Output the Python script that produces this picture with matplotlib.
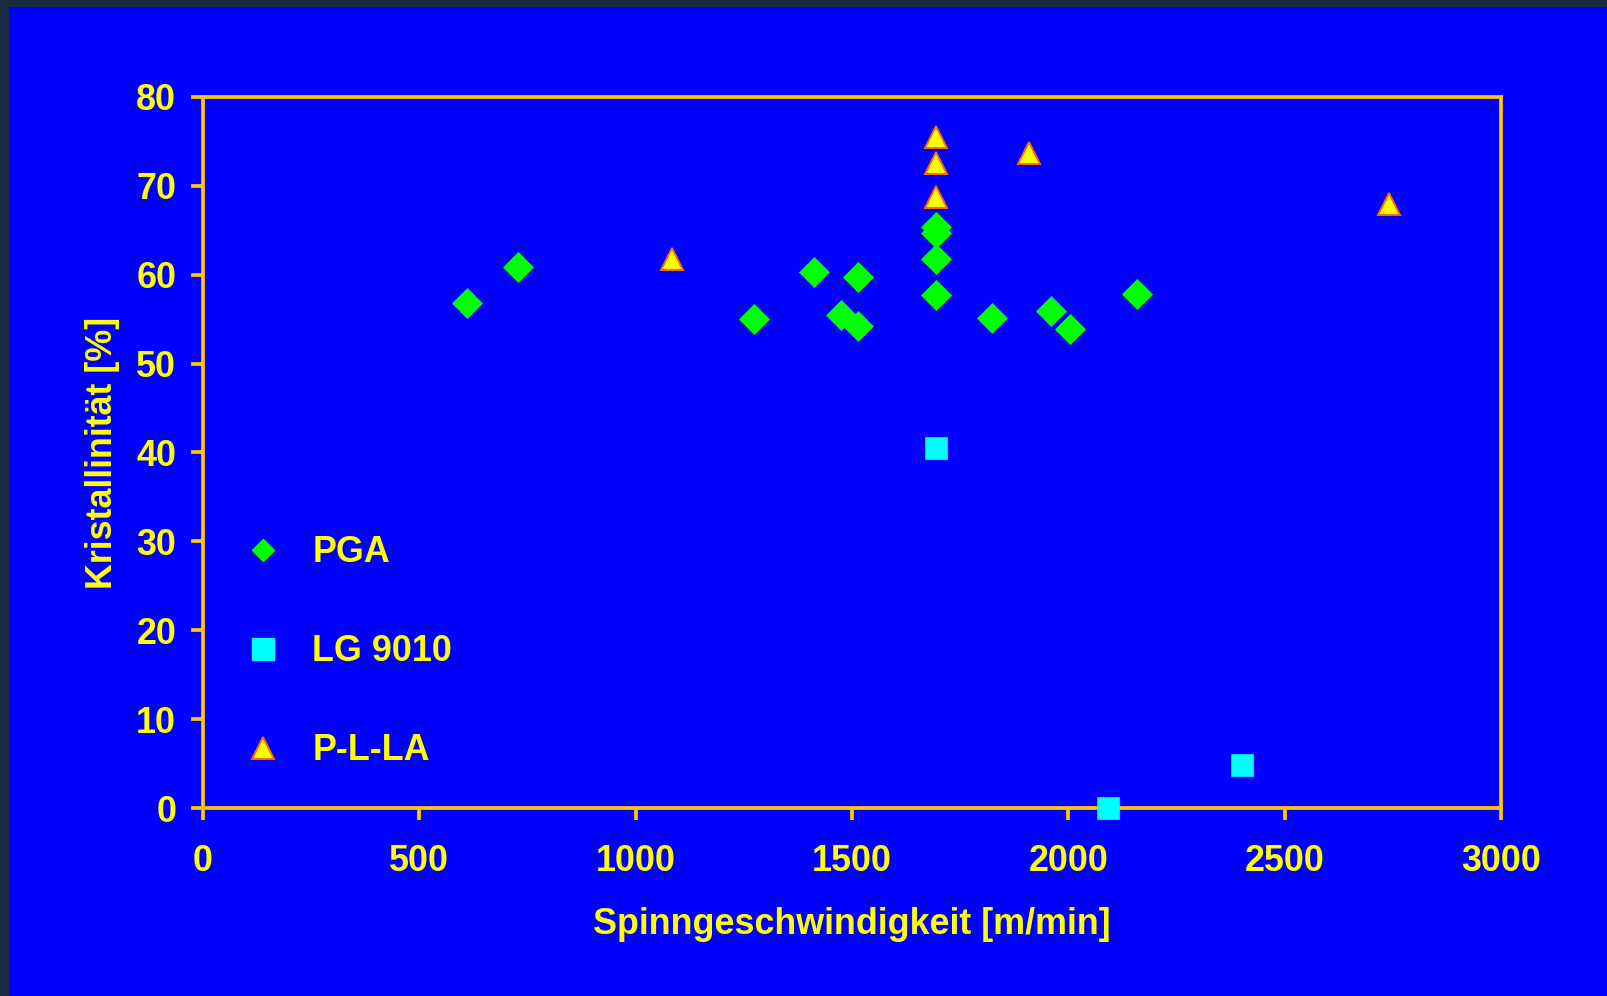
import matplotlib
matplotlib.use("Agg")
import matplotlib.pyplot as plt
from matplotlib.lines import Line2D
from matplotlib.patches import Rectangle

# Spinning speed [m/min] and crystallinity [%] per material
pga_speed = [610, 728, 1273, 1413, 1475, 1513, 1513, 1695, 1695, 1695, 1695, 1824, 1959, 2004, 2158]
pga_cryst = [56.8, 60.9, 55.0, 60.3, 55.5, 54.2, 59.8, 65.4, 64.7, 61.8, 57.7, 55.1, 55.9, 53.9, 57.8]

lg_speed = [1695, 2092, 2402]
lg_cryst = [40.5, 0.0, 4.8]

plla_speed = [1084, 1695, 1695, 1695, 1909, 2741]
plla_cryst = [61.8, 75.5, 72.6, 68.8, 73.7, 68.0]

series_names = ["PGA", "LG 9010", "P-L-LA"]
x_ticks = [0, 500, 1000, 1500, 2000, 2500, 3000]
y_ticks = [0, 10, 20, 30, 40, 50, 60, 70, 80]

BLUE = "#0000FF"
YELLOW = "#FFFF00"
AXIS = "#FFC800"
GREEN = "#00FF00"
CYAN = "#00FFFF"
ORANGE = "#FF6600"
FS = 25.8

plt.rcParams["font.family"] = ["Liberation Sans", "DejaVu Sans"]
plt.rcParams["font.weight"] = "bold"

fig = plt.figure(figsize=(16.08, 9.96), dpi=100)
fig.patch.set_facecolor("#1a2a40")
fig.patches.append(Rectangle((9 / 1608, 0), 1, 1 - 7 / 996, transform=fig.transFigure,
                             facecolor=BLUE, edgecolor="none", zorder=-10))

ax = fig.add_axes([203 / 1608, 1 - 808 / 996, (1501 - 203) / 1608, (808 - 97) / 996])
ax.set_facecolor(BLUE)

ax.plot(pga_speed, pga_cryst, linestyle="none", marker="D", markersize=15.3,
        markerfacecolor=GREEN, markeredgecolor=GREEN, markeredgewidth=0.5,
        clip_on=False, zorder=5)
ax.plot(lg_speed, lg_cryst, linestyle="none", marker="s", markersize=16.0,
        markerfacecolor=CYAN, markeredgecolor=CYAN, markeredgewidth=0.5,
        clip_on=False, zorder=5)
ax.plot(plla_speed, plla_cryst, linestyle="none", marker="^", markersize=16.0,
        markerfacecolor=YELLOW, markeredgecolor=ORANGE, markeredgewidth=1.4,
        clip_on=False, zorder=5)

ax.set_xlim(0, 3000)
ax.set_ylim(0, 80)
ax.set_xticks(x_ticks)
ax.set_yticks(y_ticks)

for sp in ax.spines.values():
    sp.set_color(AXIS)
    sp.set_linewidth(2.7)

ax.tick_params(axis="both", colors=AXIS, width=2.7, length=8.8,
               labelcolor=YELLOW, labelsize=FS)
ax.tick_params(axis="x", pad=17)
ax.tick_params(axis="y", pad=10.5)
for lbl in ax.get_xticklabels() + ax.get_yticklabels():
    lbl.set_fontweight("bold")

ax.set_xlabel("Spinngeschwindigkeit [m/min]", color=YELLOW, fontsize=FS,
              fontweight="bold", labelpad=20)
ax.set_ylabel("Kristallinität [%]", color=YELLOW, fontsize=FS,
              fontweight="bold", labelpad=11.5)

handles = [
    Line2D([], [], linestyle="none", marker="D", markersize=11.2,
           markerfacecolor=GREEN, markeredgecolor=GREEN),
    Line2D([], [], linestyle="none", marker="s", markersize=16.0,
           markerfacecolor=CYAN, markeredgecolor=CYAN),
    Line2D([], [], linestyle="none", marker="^", markersize=16.0,
           markerfacecolor=YELLOW, markeredgecolor=ORANGE, markeredgewidth=1.4),
]
leg = ax.legend(handles, series_names, loc="upper left",
                bbox_to_anchor=(245 / 1608, 1 - 535.5 / 996), bbox_transform=fig.transFigure,
                frameon=False, fontsize=FS, labelspacing=1.78, handlelength=1.0,
                handletextpad=0.88, borderpad=0, borderaxespad=0)
for t in leg.get_texts():
    t.set_color(YELLOW)
    t.set_fontweight("bold")

fig.savefig("out.png", dpi=100, facecolor=fig.get_facecolor())
